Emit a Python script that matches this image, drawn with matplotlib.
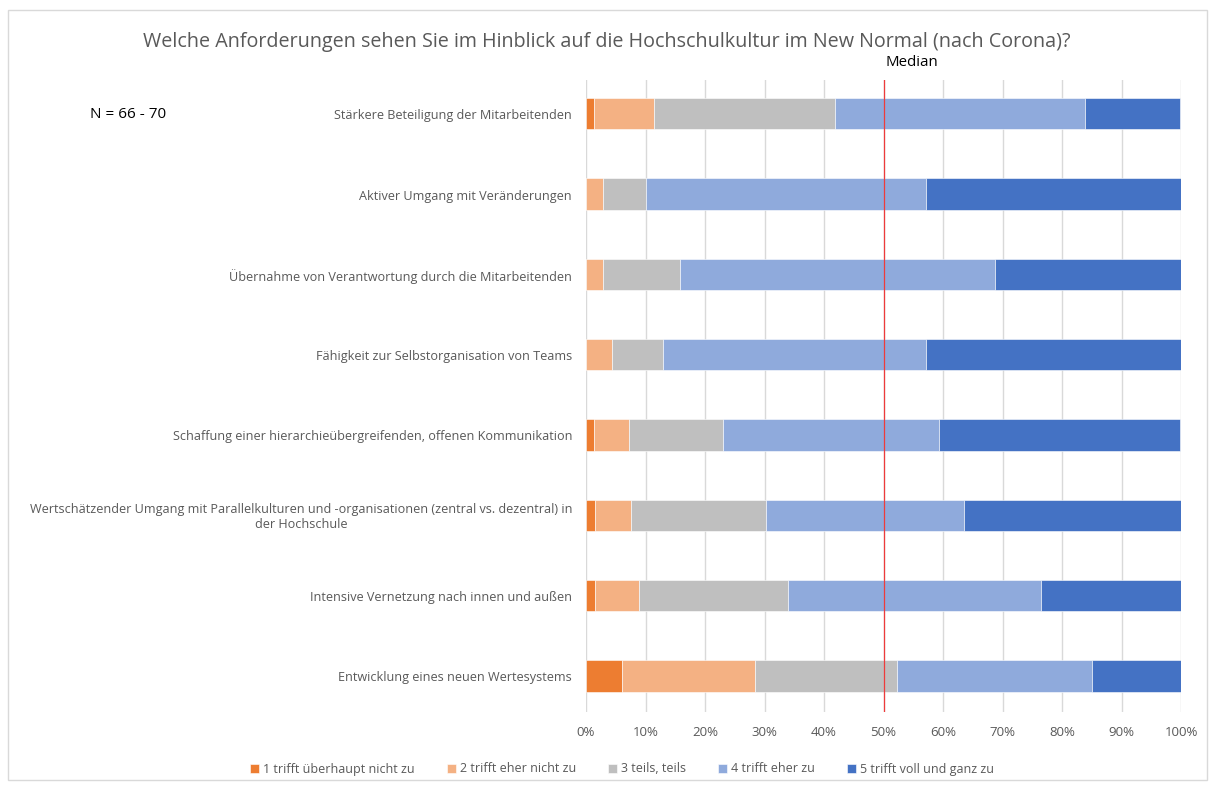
import matplotlib.pyplot as plt
import numpy as np
from matplotlib.patches import Rectangle

plt.rcParams['font.family'] = ['Open Sans', 'DejaVu Sans']

# categories from top to bottom
categories = [
    'Stärkere Beteiligung der Mitarbeitenden',
    'Aktiver Umgang mit Veränderungen',
    'Übernahme von Verantwortung durch die Mitarbeitenden',
    'Fähigkeit zur Selbstorganisation von Teams',
    'Schaffung einer hierarchieübergreifenden, offenen Kommunikation',
    'Wertschätzender Umgang mit Parallelkulturen und -organisationen (zentral vs. dezentral) in\nder Hochschule',
    'Intensive Vernetzung nach innen und außen',
    'Entwicklung eines neuen Wertesystems',
]

# shares in percent, per answer level
s1 = [1.4, 0.0, 0.0, 0.0, 1.4, 1.5, 1.5, 6.0]
s2 = [10.1, 2.9, 2.9, 4.3, 5.8, 6.1, 7.4, 22.4]
s3 = [30.4, 7.1, 12.9, 8.6, 15.9, 22.7, 25.0, 23.9]
s4 = [42.0, 47.1, 52.9, 44.3, 36.2, 33.3, 42.6, 32.8]
s5 = [15.9, 42.9, 31.4, 42.9, 40.6, 36.4, 23.5, 14.9]

series_labels = ['1 trifft überhaupt nicht zu', '2 trifft eher nicht zu', '3 teils, teils',
                 '4 trifft eher zu', '5 trifft voll und ganz zu']
colors = ['#ED7D31', '#F4B183', '#BFBFBF', '#8FAADC', '#4472C4']
median_pos = 50

fig = plt.figure(figsize=(12.15, 7.87), dpi=100)
ax = fig.add_axes([586 / 1215, 1 - 712 / 787, 595 / 1215, 632 / 787])

y = np.arange(len(categories))[::-1]
left = np.zeros(len(categories))
for vals, lab, col in zip([s1, s2, s3, s4, s5], series_labels, colors):
    vals = np.array(vals)
    ax.barh(y, vals, left=left, height=0.39, color=col, label=lab,
            edgecolor='white', linewidth=0.4, zorder=3)
    left += vals

ax.set_xlim(0, 100)
ax.set_ylim(-0.45, 7.42)
ax.set_xticks(np.arange(0, 101, 10))
ax.set_xticklabels([f'{v}%' for v in range(0, 101, 10)], fontsize=9.5, color='#595959')
ax.set_yticks([])
# category labels, multi-line one centred like in the original
for yi, cat in zip(y, categories):
    ax.text(-0.0235, yi - 0.025, cat, transform=ax.get_yaxis_transform(), ha='right', va='center',
            multialignment='center', fontsize=9.1, color='#595959')
ax.tick_params(length=0)
ax.tick_params(axis='x', pad=10)
ax.grid(axis='x', color='#D9D9D9', linewidth=1, zorder=0)
for sp in ax.spines.values():
    sp.set_visible(False)

ax.axvline(median_pos, color='#EE3B3B', linewidth=0.9, zorder=4)
fig.text(912 / 1215, 1 - 62 / 787, 'Median', ha='center', va='center', fontsize=10.8, color='black')

fig.text(607 / 1215, 1 - 42 / 787,
         'Welche Anforderungen sehen Sie im Hinblick auf die Hochschulkultur im New Normal (nach Corona)?',
         ha='center', va='center', fontsize=14.2, color='#595959')
fig.text(90 / 1215, 1 - 114 / 787, 'N = 66 - 70', ha='left', va='center', fontsize=11, color='black')

handles, labels = ax.get_legend_handles_labels()
fig.legend(handles, labels, loc='center', bbox_to_anchor=(622 / 1215, 1 - 769 / 787), ncol=5,
           frameon=False, fontsize=9, labelcolor='#595959', handlelength=0.7, handleheight=0.7,
           handletextpad=0.3, columnspacing=2.6)

fig.patches.append(Rectangle((8 / 1215, 1 - 780 / 787), 1199 / 1215, 770 / 787,
                             transform=fig.transFigure, fill=False, edgecolor='#D9D9D9', linewidth=1))

plt.savefig('out.png', dpi=100)
